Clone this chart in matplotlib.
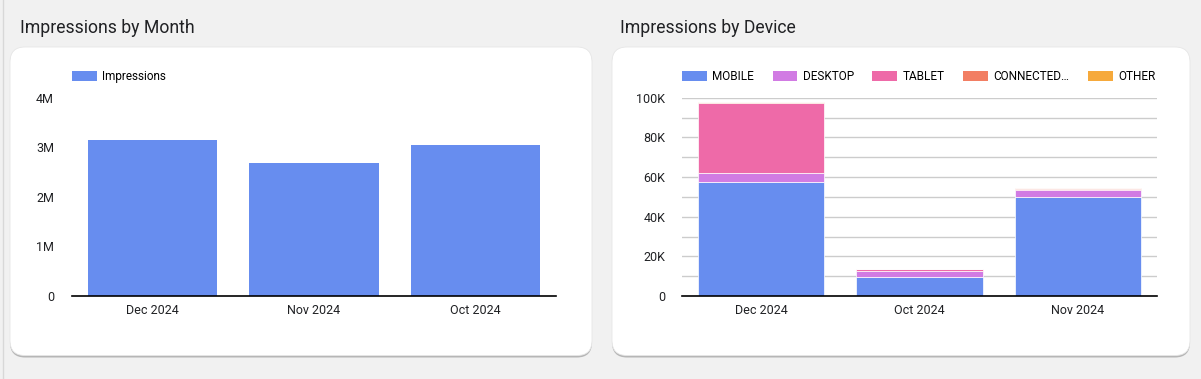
import matplotlib
matplotlib.use("Agg")
import matplotlib.pyplot as plt
from matplotlib.patches import FancyBboxPatch, Patch
from matplotlib.ticker import FuncFormatter, MultipleLocator
import numpy as np

plt.rcParams['font.family'] = ['Roboto', 'DejaVu Sans']

# ---- data ----
month_categories = ["Dec 2024", "Nov 2024", "Oct 2024"]
month_impressions = [3.14e6, 2.69e6, 3.04e6]

device_categories = ["Dec 2024", "Oct 2024", "Nov 2024"]
device_series = ["MOBILE", "DESKTOP", "TABLET", "CONNECTED…", "OTHER"]
mobile = [57500, 9500, 50000]
desktop = [4500, 3300, 3500]
tablet = [35500, 600, 600]
connected = [300, 300, 300]
other = [100, 100, 100]
device_values = [mobile, desktop, tablet, connected, other]
device_colors = ["#678def", "#d17be3", "#ee6aa8", "#f27e63", "#f6a93b"]
bar_color = "#678def"

W, H = 1201, 379
fig = plt.figure(figsize=(W / 100, H / 100), dpi=100)
fig.patch.set_facecolor("#f1f1f1")

# background axes in pixel coords
bg = fig.add_axes([0, 0, 1, 1])
bg.set_xlim(0, W)
bg.set_ylim(H, 0)
bg.axis("off")
bg.set_zorder(0)

def card(x0, y0, x1, y1):
    sh = FancyBboxPatch((x0, y0 + 2), x1 - x0, y1 - y0, boxstyle="round,pad=0,rounding_size=15",
                        fc="#a8a8a8", ec="none", alpha=0.8)
    bg.add_patch(sh)
    c = FancyBboxPatch((x0, y0), x1 - x0, y1 - y0, boxstyle="round,pad=0,rounding_size=15",
                       fc="white", ec="#e6e6e6", lw=0.6)
    bg.add_patch(c)

card(10, 47, 592, 355.5)
card(612, 47, 1190, 355.5)
bg.plot([2.5, 2.5], [0, H], color="#d8d8d8", lw=1)

bg.text(20, 28, "Impressions by Month", fontsize=12.7, color="#202124", va="center", ha="left")
bg.text(620, 28, "Impressions by Device", fontsize=12.7, color="#202124", va="center", ha="left")

def px_axes(x0, y_top, x1, y_bot):
    return fig.add_axes([x0 / W, 1 - y_bot / H, (x1 - x0) / W, (y_bot - y_top) / H])

# ---- left chart ----
ax1 = px_axes(72, 97.7, 556, 296)
ax1.set_zorder(2)
ax1.patch.set_alpha(0)
x = np.arange(len(month_categories))
ax1.bar(x, month_impressions, width=0.8, color=bar_color, label="Impressions", zorder=2)
ax1.set_xlim(-0.5, len(month_categories) - 0.5)
ax1.set_ylim(0, 4e6)
ax1.set_yticks([0, 1e6, 2e6, 3e6, 4e6])
ax1.yaxis.set_major_formatter(FuncFormatter(lambda v, p: "0" if v == 0 else f"{v/1e6:.0f}M"))
ax1.set_xticks(x)
ax1.set_xticklabels(month_categories)
for s in ["top", "right", "left"]:
    ax1.spines[s].set_visible(False)
ax1.spines["bottom"].set_color("black")
ax1.spines["bottom"].set_linewidth(1.2)
ax1.tick_params(axis="y", length=0, pad=13, labelsize=9, labelcolor="#202124")
ax1.tick_params(axis="x", length=0, pad=6, labelsize=9, labelcolor="#202124")
ax1.legend(loc="center left", bbox_to_anchor=(0, 1.108), frameon=False, fontsize=8.5,
           handlelength=2.1, handleheight=0.95, handletextpad=0.45, borderpad=0, borderaxespad=0)

# ---- right chart ----
ax2 = px_axes(682, 97.7, 1157, 296)
ax2.set_zorder(2)
ax2.patch.set_alpha(0)
x2 = np.arange(len(device_categories))
bottom = np.zeros(len(device_categories))
for name, vals, col in zip(device_series, device_values, device_colors):
    ax2.bar(x2, vals, bottom=bottom, width=0.8, color=col, label=name, edgecolor="white",
            linewidth=0.5, zorder=2)
    bottom += np.array(vals)
ax2.set_xlim(-0.5, len(device_categories) - 0.5)
ax2.set_ylim(0, 100000)
ax2.yaxis.set_major_locator(MultipleLocator(20000))
ax2.yaxis.set_minor_locator(MultipleLocator(10000))
ax2.yaxis.set_major_formatter(FuncFormatter(lambda v, p: "0" if v == 0 else f"{v/1000:.0f}K"))
ax2.grid(axis="y", which="both", color="#cccccc", lw=1, zorder=0)
ax2.set_axisbelow(True)
ax2.set_xticks(x2)
ax2.set_xticklabels(device_categories)
for s in ["top", "right", "left"]:
    ax2.spines[s].set_visible(False)
ax2.spines["bottom"].set_color("black")
ax2.spines["bottom"].set_linewidth(1.2)
ax2.spines["bottom"].set_zorder(3)
ax2.tick_params(axis="y", which="both", length=0, pad=12, labelsize=9, labelcolor="#202124")
ax2.tick_params(axis="x", length=0, pad=6, labelsize=9, labelcolor="#202124")
handles = [Patch(facecolor=c, edgecolor="none") for c in device_colors]
ax2.legend(handles, device_series, loc="center left", bbox_to_anchor=(0, 1.108), frameon=False,
           fontsize=8.5, ncol=5, handlelength=2.1, handleheight=0.95, handletextpad=0.45,
           columnspacing=1.58, borderpad=0, borderaxespad=0)

fig.savefig("out.png", dpi=100, facecolor=fig.get_facecolor())
